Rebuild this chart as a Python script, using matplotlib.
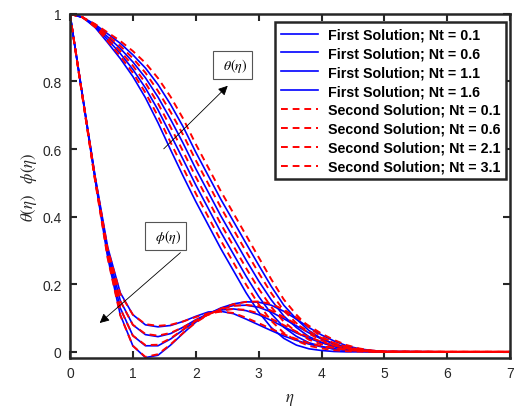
import matplotlib.pyplot as plt

# similarity variable
eta = [0, 0.2, 0.4, 0.6, 0.8, 1.0, 1.2, 1.4, 1.6, 1.8, 2.0, 2.2, 2.4, 2.6,
       2.8, 3.0, 3.2, 3.4, 3.6, 3.8, 4.0, 4.2, 4.4, 4.6, 4.8, 5.0, 6.0, 7.0]

# temperature profiles theta(eta)
theta_f1 = [1, .99, .96, .915, .868, .815, .752, .678, .598, .52, .445, .375, .305, .24,
            .175, .118, .072, .04, .02, .009, .004, .001, 0, 0, 0, 0, 0, 0]
theta_s1 = [1, .99, .961, .919, .875, .826, .767, .697, .620, .544, .469, .399, .329, .264,
            .199, .141, .092, .056, .033, .018, .010, .005, .002, .001, 0, 0, 0, 0]
theta_f2 = [1, .99, .963, .924, .883, .836, .781, .716, .643, .569, .494, .424, .354, .289,
            .224, .164, .113, .073, .046, .027, .016, .008, .004, .002, .001, 0, 0, 0]
theta_s2 = [1, .99, .964, .928, .890, .847, .796, .735, .665, .593, .518, .448, .378, .313,
            .248, .187, .133, .089, .059, .036, .022, .012, .006, .003, .001, 0, 0, 0]
theta_f3 = [1, .99, .966, .932, .898, .858, .811, .754, .688, .617, .542, .472, .402, .337,
            .272, .210, .154, .106, .072, .045, .028, .015, .008, .004, .002, 0, 0, 0]
theta_s3 = [1, .99, .967, .936, .905, .869, .826, .772, .710, .642, .567, .497, .427, .362,
            .297, .234, .174, .122, .085, .054, .034, .019, .010, .005, .002, 0, 0, 0]
theta_f4 = [1, .99, .969, .941, .913, .879, .840, .791, .732, .666, .591, .521, .451, .386,
            .321, .257, .194, .138, .097, .063, .039, .023, .012, .006, .003, .001, 0, 0]
theta_s4 = [1, .99, .97, .945, .92, .89, .855, .81, .755, .69, .615, .545, .475, .41,
            .345, .28, .215, .155, .11, .072, .045, .026, .014, .007, .003, .001, 0, 0]

# concentration profiles phi(eta)
phi_f1 = [1, .76, .52, .31, .175, .11, .08, .074, .078, .09, .105, .118, .12, .113,
          .097, .08, .063, .047, .034, .023, .015, .009, .005, .002, .001, 0, 0, 0]
phi_s1 = [1, .757, .515, .305, .172, .11, .082, .077, .08, .09, .103, .114, .119, .115,
          .101, .085, .068, .052, .038, .026, .017, .011, .006, .003, .001, 0, 0, 0]
phi_f2 = [1, .758, .517, .30, .152, .08, .051, .045, .054, .073, .095, .113, .124, .127,
          .122, .11, .093, .074, .056, .04, .027, .017, .009, .004, .002, 0, 0, 0]
phi_s2 = [1, .755, .512, .296, .15, .08, .053, .048, .056, .073, .093, .11, .122, .127,
          .124, .114, .098, .079, .06, .044, .03, .019, .011, .005, .002, 0, 0, 0]
phi_f3 = [1, .757, .513, .29, .13, .048, .018, .018, .038, .065, .092, .113, .128, .137,
          .138, .132, .118, .098, .077, .056, .038, .024, .013, .006, .003, 0, 0, 0]
phi_s3 = [1, .754, .509, .287, .128, .048, .02, .021, .04, .066, .091, .111, .126, .136,
          .139, .135, .122, .103, .082, .06, .041, .026, .015, .007, .003, .001, 0, 0]
phi_f4 = [1, .755, .51, .28, .11, .018, -.017, -.01, .02, .055, .088, .112, .13, .142,
          .148, .147, .138, .12, .097, .072, .05, .032, .018, .009, .004, .001, 0, 0]
phi_s4 = [1, .752, .506, .277, .108, .018, -.015, -.007, .022, .056, .087, .11, .128, .141,
          .148, .149, .142, .125, .102, .077, .054, .035, .02, .01, .004, .001, 0, 0]

nt_first = ['0.1', '0.6', '1.1', '1.6']
nt_second = ['0.1', '0.6', '2.1', '3.1']

plt.rcParams['font.family'] = ['Liberation Sans', 'DejaVu Sans']
plt.rcParams['mathtext.fontset'] = 'stix'

fig = plt.figure(figsize=(5.18, 4.14), dpi=100)
ax = fig.add_axes([0.135, 0.133, 0.85, 0.831])

gray = '#262626'
first = [(theta_f1, phi_f1), (theta_f2, phi_f2), (theta_f3, phi_f3), (theta_f4, phi_f4)]
second = [(theta_s1, phi_s1), (theta_s2, phi_s2), (theta_s3, phi_s3), (theta_s4, phi_s4)]

handles = []
for (th, ph), nt in zip(first, nt_first):
    h, = ax.plot(eta, th, color='blue', lw=1.2, label=f'First Solution; Nt = {nt}')
    ax.plot(eta, ph, color='blue', lw=1.2)
    handles.append(h)
for (th, ph), nt in zip(second, nt_second):
    h, = ax.plot(eta, th, color='red', lw=1.4, ls=(0, (3.5, 2.5)),
                 label=f'Second Solution; Nt = {nt}')
    ax.plot(eta, ph, color='red', lw=1.4, ls=(0, (3.5, 2.5)))
    handles.append(h)

ax.set_xlim(0, 7)
ax.set_ylim(-0.018, 1)
ax.set_xticks(range(0, 8))
ax.set_yticks([0, 0.2, 0.4, 0.6, 0.8, 1])
ax.set_yticklabels(['0', '0.2', '0.4', '0.6', '0.8', '1'])
ax.tick_params(direction='in', top=True, right=True, length=5, width=1.5,
               labelsize=10, colors=gray, pad=6)
for s in ax.spines.values():
    s.set_linewidth(1.8)
    s.set_color(gray)

ax.set_xlabel(r'$\eta$', fontsize=12, color=gray, labelpad=8)
ax.set_ylabel(r'$\theta(\eta)\quad\phi(\eta)$', fontsize=12, color=gray, labelpad=2)

leg = ax.legend(handles=handles, loc='upper right', bbox_to_anchor=(0.991, 0.977),
                borderaxespad=0, fancybox=False, framealpha=1, edgecolor=gray,
                prop={'weight': 'bold', 'size': 10.3}, handlelength=2.6,
                labelspacing=0.34, handletextpad=0.7, borderpad=0.4)
leg.get_frame().set_linewidth(1.8)

# labelled arrows for the two families of curves
box = dict(boxstyle='square,pad=0.35', fc='white', ec='#555555', lw=0.8)
ax.text(2.59, 0.849, r'$\;\;\theta(\eta)\;\;$', fontsize=10, ha='center', va='center', bbox=box)
ax.annotate('', xy=(2.54, 0.793), xytext=(1.46, 0.595),
            arrowprops=dict(arrowstyle='-|>', color='black', lw=0.6, mutation_scale=14))
ax.text(1.52, 0.343, r'$\;\;\phi(\eta)\;\;$', fontsize=10, ha='center', va='center', bbox=box)
ax.annotate('', xy=(0.44, 0.08), xytext=(1.79, 0.299),
            arrowprops=dict(arrowstyle='-|>', color='black', lw=0.6, mutation_scale=14))

fig.savefig('out.png', dpi=100)
